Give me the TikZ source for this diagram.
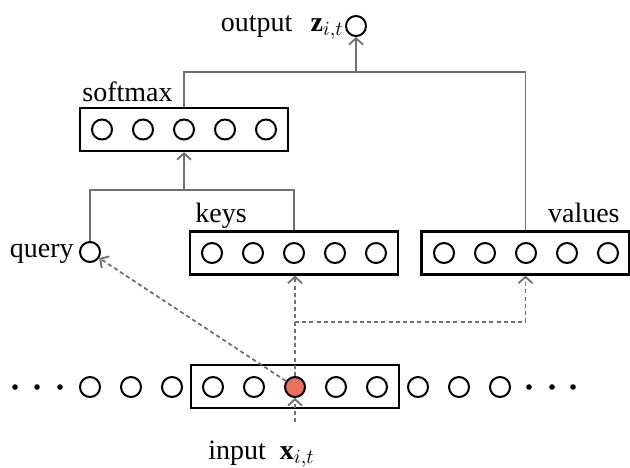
\documentclass[tikz,border=0pt]{standalone}
\usepackage{fontspec}
\setmainfont{Liberation Serif}
\usetikzlibrary{arrows.meta}
\definecolor{linegray}{RGB}{112,112,112}
\definecolor{hot}{RGB}{236,112,92}
\begin{document}
\begin{tikzpicture}[x=0.5pt,y=-0.5pt,
  unit/.style={circle,draw,line width=1pt,minimum size=10pt,inner sep=0pt},
  hotunit/.style={unit,fill=hot},
  dotn/.style={circle,fill,inner sep=0pt,minimum size=2.8pt},
  layer/.style={draw,line width=1.1pt,minimum width=104pt,minimum height=21.5pt,inner sep=0pt},
  conn/.style={draw=linegray,line width=0.9pt},
  dconn/.style={conn,dash pattern=on 2pt off 1.6pt},
  tip/.style={-{Straight Barb[length=3.2pt,width=7pt]}},
  lbl/.style={font=\fontsize{14}{16}\selectfont,inner sep=0pt}]
\useasboundingbox (0,0) rectangle (630,467);

% input row
\node[layer] (inbox) at (295,386.5) {};
\foreach \k in {0,1,2,3,4,6,7,8,9,10}
  \node[unit] (b\k) at ({90+41*\k},387) {};
\node[hotunit] (b5) at (295,387) {};
\foreach \x/\n in {15/1,37/2,60/3,529/4,552/5,573/6}
  \node[dotn] (d\n) at (\x,387) {};

% keys
\node[layer] (keys) at (294,253) {};
\foreach \k in {0,...,4}
  \node[unit] (k\k) at ({212+41*\k},253) {};
% values
\node[layer] (values) at (525.5,253) {};
\foreach \k in {0,...,4}
  \node[unit] (v\k) at ({444+41*\k},253) {};
% softmax
\node[layer] (soft) at (184,129.5) {};
\foreach \k in {0,...,4}
  \node[unit] (s\k) at ({102+41*\k},129.5) {};

\node[unit] (query) at (90,252) {};
\node[unit] (out) at (356,26) {};

% labels
\node[lbl,anchor=base east] (qlbl) at (74,257) {query};
\node[lbl,anchor=base west] (klbl) at (195,222) {keys};
\node[lbl,anchor=base east] (vlbl) at (620,222) {values};
\node[lbl,anchor=base west] (slbl) at (82,101) {softmax};
\node[lbl,anchor=base east] (olbl) at (344,31) {output\hspace{9pt}$\mathbf{z}_{i,t}$};
\node[lbl,anchor=base west] (ilbl) at (208,459) {input\ \ $\mathbf{x}_{i,t}$};

% solid connectors
\coordinate (qkbar) at (184,190);
\coordinate (svbar) at (356,72);
\draw[conn] (query.north) |- (qkbar) -| (keys.north);
\draw[conn,tip] (qkbar) -- (soft.south);
\draw[conn] (soft.north) |- (svbar) -| (values.north);
\draw[conn,tip] (svbar) -- (out.south);

% dashed connectors
\coordinate (kvbar) at (295,322);
\coordinate (inbot) at (295,422);
\draw[dconn,tip] (b5.north) -- (b5.north |- keys.south);
\draw[dconn,tip] (kvbar) -| (values.south);
\draw[dconn,tip] (b5) -- (query);
\draw[dconn,tip] (inbot) -- (b5.south);
\end{tikzpicture}
\end{document}
